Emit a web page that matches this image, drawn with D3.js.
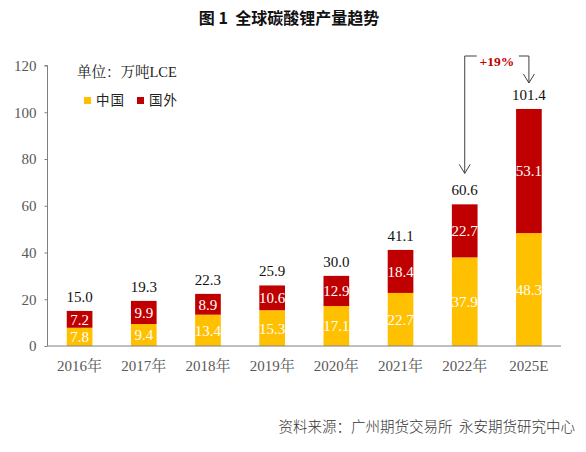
<!DOCTYPE html>
<html>
<head>
<meta charset="utf-8">
<script src="https://cdn.jsdelivr.net/npm/d3@7"></script>
<style>
  body { margin: 0; background: #fff; }
  svg { display: block; }
</style>
</head>
<body>
<div id="chart"></div>
<script>
var years = ["2016年", "2017年", "2018年", "2019年", "2020年", "2021年", "2022年", "2025E"];
var china = [7.8, 9.4, 13.4, 15.3, 17.1, 22.7, 37.9, 48.3];
var abroad = [7.2, 9.9, 8.9, 10.6, 12.9, 18.4, 22.7, 53.1];
var totals = [15.0, 19.3, 22.3, 25.9, 30.0, 41.1, 60.6, 101.4];
var seriesNames = ["中国", "国外"];
var yTicks = [0, 20, 40, 60, 80, 100, 120];

var W = 586, H = 452;
var serif = "'Liberation Serif', 'Noto Serif CJK SC', serif";
var sans = "'Noto Sans CJK SC', 'Noto Sans', sans-serif";
var colors = ["#FFC000", "#C00000"];

var svg = d3.select("#chart").append("svg")
    .attr("width", W)
    .attr("height", H);

var x = d3.scaleBand()
    .domain(years)
    .range([47.5, 561])
    .paddingInner(0.6)
    .paddingOuter(0.3);

var y = d3.scaleLinear()
    .domain([0, 120])
    .range([346, 65.5]);

// title
svg.append("text")
    .attr("x", 289)
    .attr("y", 24)
    .attr("text-anchor", "middle")
    .style("font-family", sans)
    .style("font-weight", "bold")
    .style("font-size", "16px")
    .style("white-space", "pre")
    .attr("fill", "#111")
    .text("图 1\u00a0\u00a0全球碳酸锂产量趋势");

// stacked data
var rows = years.map(function(d, i) { return {year: d, china: china[i], abroad: abroad[i]}; });
var stack = d3.stack().keys(["china", "abroad"])(rows);

var layer = svg.selectAll(".layer")
    .data(stack)
  .enter().append("g")
    .attr("class", "layer")
    .attr("fill", function(d, i) { return colors[i]; });

layer.selectAll("rect")
    .data(function(d) { return d; })
  .enter().append("rect")
    .attr("x", function(d) { return x(d.data.year); })
    .attr("width", x.bandwidth())
    .attr("y", function(d) { return y(d[1]); })
    .attr("height", function(d) { return y(d[0]) - y(d[1]); });

layer.selectAll("text")
    .data(function(d) { return d; })
  .enter().append("text")
    .attr("x", function(d) { return x(d.data.year) + x.bandwidth() / 2; })
    .attr("y", function(d) { return (y(d[0]) + y(d[1])) / 2; })
    .attr("dy", "0.36em")
    .attr("text-anchor", "middle")
    .attr("fill", "#fff")
    .style("font-family", serif)
    .style("font-size", "15px")
    .text(function(d) { return (d[1] - d[0]).toFixed(1); });

// totals
svg.selectAll(".total")
    .data(totals)
  .enter().append("text")
    .attr("class", "total")
    .attr("x", function(d, i) { return x(years[i]) + x.bandwidth() / 2; })
    .attr("y", function(d) { return y(d) - 9; })
    .attr("text-anchor", "middle")
    .attr("fill", "#111")
    .style("font-family", serif)
    .style("font-size", "15px")
    .text(function(d) { return d.toFixed(1); });

// axes
var yAxis = svg.append("g")
    .attr("transform", "translate(47.5,0)")
    .call(d3.axisLeft(y).tickValues(yTicks).tickSize(3).tickPadding(8));
yAxis.select(".domain").attr("stroke", "#7f7f7f").attr("d", "M-3," + y(120) + "H0V" + y(0));
yAxis.selectAll(".tick line").attr("stroke", "#7f7f7f");
yAxis.selectAll("text")
    .attr("fill", "#595959")
    .style("font-family", serif)
    .style("font-size", "15px");

var xAxis = svg.append("g")
    .attr("transform", "translate(0,346)")
    .call(d3.axisBottom(x).tickSize(0).tickPadding(14));
xAxis.select(".domain").attr("stroke", "#7f7f7f").attr("d", "M47.5,0H561");
xAxis.selectAll("text")
    .attr("fill", "#595959")
    .style("font-family", serif)
    .style("font-size", "15px");

// unit + legend
svg.append("text")
    .attr("x", 77)
    .attr("y", 77)
    .attr("fill", "#222")
    .style("font-family", serif)
    .style("font-size", "14.5px")
    .text("单位：万吨LCE");

var legend = svg.selectAll(".legend")
    .data(seriesNames)
  .enter().append("g")
    .attr("class", "legend")
    .attr("transform", function(d, i) { return "translate(" + (84 + i * 53) + ",97)"; });

legend.append("rect")
    .attr("width", 7)
    .attr("height", 7)
    .attr("fill", function(d, i) { return colors[i]; });

legend.append("text")
    .attr("x", 12)
    .attr("y", 8)
    .attr("fill", "#222")
    .style("font-family", sans)
    .style("font-size", "13.5px")
    .style("letter-spacing", "1px")
    .text(function(d) { return d; });

// +19% annotation
var xa = x("2022年") + x.bandwidth() / 2,
    xb = x("2025E") + x.bandwidth() / 2,
    topY = 56,
    endA = y(60.6) - 31,
    endB = y(101.4) - 26;

var ann = svg.append("g")
    .attr("fill", "none")
    .attr("stroke", "#404040")
    .attr("stroke-width", 1);

ann.append("path").attr("d", "M" + (xa + 12) + "," + topY + "H" + xa + "V" + endA);
ann.append("path").attr("d", "M" + (xa - 5.5) + "," + (endA - 9) + "L" + xa + "," + endA + "L" + (xa + 5.5) + "," + (endA - 9));
ann.append("path").attr("d", "M" + (xb - 10) + "," + topY + "H" + xb + "V" + endB);
ann.append("path").attr("d", "M" + (xb - 5.5) + "," + (endB - 9) + "L" + xb + "," + endB + "L" + (xb + 5.5) + "," + (endB - 9));

svg.append("text")
    .attr("x", (xa + xb) / 2)
    .attr("y", 66)
    .attr("text-anchor", "middle")
    .attr("fill", "#C00000")
    .style("font-family", serif)
    .style("font-weight", "bold")
    .style("font-size", "13.5px")
    .text("+19%");

// source
svg.append("text")
    .attr("x", 575)
    .attr("y", 432)
    .attr("text-anchor", "end")
    .attr("fill", "#333")
    .style("font-family", sans)
    .style("font-size", "14.5px")
    .style("font-weight", "300")
    .style("white-space", "pre")
    .text("资料来源：广州期货交易所\u00a0\u00a0永安期货研究中心");
</script>
</body>
</html>
